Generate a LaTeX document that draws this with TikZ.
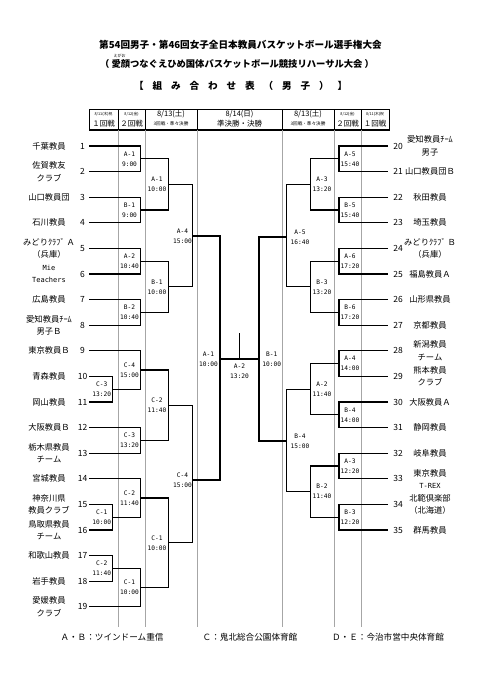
\documentclass[tikz,border=0pt]{standalone}
\usepackage{fontspec}
\setmainfont{Noto Sans CJK JP}
\newfontfamily\monof{DejaVu Sans Mono}
\newcommand\mymatch[7]{%
  \coordinate (#1) at (#4,#5);
  \draw[br] (#2) -| (#1) |- (#3);
  \node[lab] (#1t) at (#6,#5) {#7};}
\begin{document}
\begin{tikzpicture}[x=1pt,y=-1pt,
  br/.style={draw=black, line width=1.1pt},
  grid/.style={draw=black!35, line width=0.6pt},
  hline/.style={draw=black, line width=0.6pt},
  tname/.style={font=\fontsize{8.3}{12.5}\selectfont, align=center, inner sep=0pt},
  tnum/.style={font=\fontsize{8.5}{10}\selectfont, inner sep=0pt},
  lab/.style={font=\monof\fontsize{6.2}{10}\selectfont, align=center, inner sep=0pt},
  mono/.style={font=\monof\fontsize{7}{12.5}\selectfont, align=center, inner sep=0pt},
  hsmall/.style={font=\fontsize{3.8}{4}\selectfont, inner sep=0pt},
  hmid/.style={font=\fontsize{4.6}{5}\selectfont, inner sep=0pt},
  hbig/.style={font=\fontsize{7.5}{8}\selectfont, inner sep=0pt},
  title/.style={font=\bfseries\fontsize{9.6}{11}\selectfont, inner sep=0pt},
  foot/.style={font=\fontsize{8.6}{9}\selectfont, inner sep=0pt}]
\useasboundingbox[fill=white] (0,0) rectangle (481,680);

% titles
\node[title] (t1) at (240.5,45) {第54回男子・第46回女子全日本教員バスケットボール選手権大会};
\node[title, font=\bfseries\fontsize{9.3}{11}\selectfont] (t2) at (237,64) {（ 愛顔つなぐえひめ国体バスケットボール競技リハーサル大会 ）};
\node[inner sep=0pt, font=\fontsize{4}{4}\selectfont] (ruby) at (119.5,55.5) {えがお};
\foreach \c [count=\i] in {【,組,み,合,わ,せ,表,（,男,子,）,】}
  \node[title] (h\i) at ({139+(\i-1)*18.5},86) {\c};

% header
\draw[hline] (89,109) rectangle (389,130);
\draw[draw=black, line width=1.2pt] (89,130) -- (389,130);
\foreach \x in {118,145,197,282,334,361} \draw[hline] (\x,109) -- (\x,130);
\foreach \x in {118,145,197,282,334,361} \draw[grid] (\x,130) -- (\x,627);
\node[hsmall] (d1) at (103.5,114.5) {8/11(木)祝};
\node[hsmall] (d2) at (131.5,114.5) {8/12(金)};
\node[hbig] (d3) at (171,114.5) {8/13(土)};
\node[hbig] (d4) at (239.5,114.5) {8/14(日)};
\node[hbig] (d5) at (308,114.5) {8/13(土)};
\node[hsmall] (d6) at (347.5,114.5) {8/12(金)};
\node[hsmall] (d7) at (375,114.5) {8/11(木)祝};
\node[hbig] (r1) at (103.5,124) {１回戦};
\node[hbig] (r2) at (131.5,124) {２回戦};
\node[hmid] (r3) at (171,124) {3回戦・準々決勝};
\node[hbig] (r4) at (239.5,124) {準決勝・決勝};
\node[hmid] (r5) at (308,124) {3回戦・準々決勝};
\node[hbig] (r6) at (347.5,124) {２回戦};
\node[hbig] (r7) at (375,124) {１回戦};

% left teams
\foreach \i/\y in {1/146,2/171.6,3/197.2,4/222.8,5/248.4,6/274,7/299.6,8/325.2,9/350.8,10/376.4,11/402,12/427.6,13/453.2,14/478.8,15/504.4,16/530,17/555.6,18/581.2,19/606.8}{
  \coordinate (T\i) at (89,\y);
  \node[tnum] (n\i) at (82.5,\y) {\i};
}
\node[tname] (m1) at (49,146) {千葉教員};
\node[tname] (m2) at (49,171.6) {佐賀教友\\クラブ};
\node[tname] (m3) at (49,197.2) {山口教員団};
\node[tname] (m4) at (49,222.8) {石川教員};
\node[tname] (m5) at (49,248.4) {みどりｸﾗﾌﾞ Ａ\\（兵庫）};
\node[mono] (m6) at (49,274) {Mie\\Teachers};
\node[tname] (m7) at (49,299.6) {広島教員};
\node[tname] (m8) at (49,325.2) {愛知教員ﾁｰﾑ\\男子Ｂ};
\node[tname] (m9) at (49,350.8) {東京教員Ｂ};
\node[tname] (m10) at (49,376.4) {青森教員};
\node[tname] (m11) at (49,402) {岡山教員};
\node[tname] (m12) at (49,427.6) {大阪教員Ｂ};
\node[tname] (m13) at (49,453.2) {栃木県教員\\チーム};
\node[tname] (m14) at (49,478.8) {宮城教員};
\node[tname] (m15) at (49,504.4) {神奈川県\\教員クラブ};
\node[tname] (m16) at (49,530) {鳥取県教員\\チーム};
\node[tname] (m17) at (49,555.6) {和歌山教員};
\node[tname] (m18) at (49,581.2) {岩手教員};
\node[tname] (m19) at (49,606.8) {愛媛教員\\クラブ};

% right teams
\foreach \i/\y in {20/146,21/171.6,22/197.2,23/222.8,24/248.4,25/274,26/299.6,27/325.2,28/350.8,29/376.4,30/402,31/427.6,32/453.2,33/478.8,34/504.4,35/530}{
  \coordinate (T\i) at (388,\y);
  \node[tnum] (n\i) at (398,\y) {\i};
}
\node[tname] (m20) at (430,146) {愛知教員ﾁｰﾑ\\男子};
\node[tname] (m21) at (430,171.6) {山口教員団Ｂ};
\node[tname] (m22) at (430,197.2) {秋田教員};
\node[tname] (m23) at (430,222.8) {埼玉教員};
\node[tname] (m24) at (430,248.4) {みどりｸﾗﾌﾞ Ｂ\\（兵庫）};
\node[tname] (m25) at (430,274) {福島教員Ａ};
\node[tname] (m26) at (430,299.6) {山形県教員};
\node[tname] (m27) at (430,325.2) {京都教員};
\node[tname] (m28) at (430,350.8) {新潟教員\\チーム};
\node[tname] (m29) at (430,376.4) {熊本教員\\クラブ};
\node[tname] (m30) at (430,402) {大阪教員Ａ};
\node[tname] (m31) at (430,427.6) {静岡教員};
\node[tname] (m32) at (430,453.2) {岐阜教員};
\node[tname] (m33) at (430,478.8) {東京教員\\{\monof\fontsize{7}{9}\selectfont T-REX}};
\node[tname] (m34) at (430,504.4) {北範倶楽部\\（北海道）};
\node[tname] (m35) at (430,530) {群馬教員};

% left bracket
\mymatch{LaC3}{T10}{T11}{112.7}{389.2}{101.7}{C-3\\13:20}
\mymatch{LaC1}{T15}{T16}{112.7}{517.2}{101.7}{C-1\\10:00}
\mymatch{LaC2}{T17}{T18}{112.7}{568.4}{101.7}{C-2\\11:40}
\mymatch{LbA1}{T1}{T2}{140.7}{158.8}{129.5}{A-1\\9:00}
\mymatch{LbB1}{T3}{T4}{140.7}{210}{129.5}{B-1\\9:00}
\mymatch{LbA2}{T5}{T6}{140.7}{261.2}{129.5}{A-2\\10:40}
\mymatch{LbB2}{T7}{T8}{140.7}{312.4}{129.5}{B-2\\10:40}
\mymatch{LbC4}{T9}{LaC3}{140.7}{370}{129.5}{C-4\\15:00}
\mymatch{LbC3}{T12}{T13}{140.7}{440.4}{129.5}{C-3\\13:20}
\mymatch{LbC2}{T14}{LaC1}{140.7}{498}{129.5}{C-2\\11:40}
\mymatch{LbC1}{LaC2}{T19}{140.7}{587.6}{129.5}{C-1\\10:00}
\mymatch{LcA1}{LbA1}{LbB1}{168.3}{184.4}{157}{A-1\\10:00}
\mymatch{LcB1}{LbA2}{LbB2}{168.3}{286.8}{157}{B-1\\10:00}
\mymatch{LcC2}{LbC4}{LbC3}{168.3}{405.2}{157}{C-2\\11:40}
\mymatch{LcC1}{LbC2}{LbC1}{168.3}{542.8}{157}{C-1\\10:00}
\mymatch{LdA4}{LcA1}{LcB1}{192.3}{236}{182.5}{A-4\\15:00}
\mymatch{LdC4}{LcC2}{LcC1}{192.3}{480}{182.5}{C-4\\15:00}
\mymatch{LeA1}{LdA4}{LdC4}{220}{359}{208.5}{A-1\\10:00}

% right bracket
\mymatch{RbA5}{T20}{T21}{339}{158.8}{350}{A-5\\15:40}
\mymatch{RbB5}{T22}{T23}{339}{210}{350}{B-5\\15:40}
\mymatch{RbA6}{T24}{T25}{339}{261.2}{350}{A-6\\17:20}
\mymatch{RbB6}{T26}{T27}{339}{312.4}{350}{B-6\\17:20}
\mymatch{RbA4}{T28}{T29}{339}{363.6}{350}{A-4\\14:00}
\mymatch{RbB4}{T30}{T31}{339}{414.8}{350}{B-4\\14:00}
\mymatch{RbA3}{T32}{T33}{339}{466}{350}{A-3\\12:20}
\mymatch{RbB3}{T34}{T35}{339}{517.2}{350}{B-3\\12:20}
\mymatch{RcA3}{RbA5}{RbB5}{310.7}{184.4}{322}{A-3\\13:20}
\mymatch{RcB3}{RbA6}{RbB6}{310.7}{286.8}{322}{B-3\\13:20}
\mymatch{RcA2}{RbA4}{RbB4}{310.7}{389.2}{322}{A-2\\11:40}
\mymatch{RcB2}{RbA3}{RbB3}{310.7}{491.6}{322}{B-2\\11:40}
\mymatch{RdA5}{RcA3}{RcB3}{286.7}{237}{300}{A-5\\16:40}
\mymatch{RdB4}{RcA2}{RcB2}{286.7}{441}{300}{B-4\\15:00}
\mymatch{ReB1}{RdA5}{RdB4}{259}{359}{271.7}{B-1\\10:00}

% final
\coordinate (finmid) at (239.5,359);
\coordinate (champ) at (239.5,333);
\draw[br] (LeA1) -- (ReB1);
\draw[br] (finmid) -- (champ);
\node[lab] (fin) at (239.5,371.5) {A-2\\13:20};

% footer
\node[foot] (f1) at (112,637) {Ａ・Ｂ：ツインドーム重信};
\node[foot] (f2) at (250,637) {Ｃ：鬼北総合公園体育館};
\node[foot] (f3) at (388,637) {Ｄ・Ｅ：今治市営中央体育館};
\end{tikzpicture}
\end{document}
